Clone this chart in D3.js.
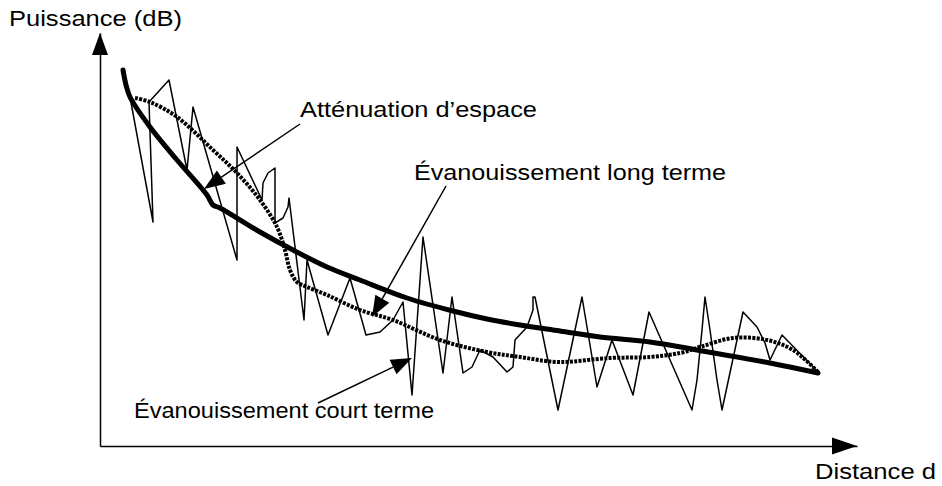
<!DOCTYPE html>
<html lang="fr">
<head>
<meta charset="utf-8">
<script src="https://cdn.jsdelivr.net/npm/d3@7"></script>
<style>
  body { margin: 0; background: #fff; }
  svg text { font-family: "Liberation Sans", Arial, sans-serif; fill: #000; }
</style>
</head>
<body>
<svg width="942" height="486"></svg>
<script>
// Chart units: [distance, puissance], origin at the corner of the axes
const attenuation = [
    [23, 376], [26, 361], [30, 349], [50, 319], [77, 286], [107, 251], [113, 241],
    [120, 238], [160, 214], [193, 196], [227, 179], [260, 166], [307, 148],
    [353, 135], [387, 127], [420, 121], [460, 115], [500, 109], [550, 104],
    [597, 96], [670, 83], [718, 73]
];

const longTerme = [
    [35, 348], [50, 344], [77, 329], [113, 296], [137, 273], [160, 246], [177, 219],
    [185, 196], [190, 176], [197, 164], [207, 159], [227, 151], [260, 136],
    [293, 126], [340, 106], [387, 94], [420, 89], [458, 84], [510, 88], [550, 89],
    [580, 93], [600, 99], [633, 108], [667, 106], [693, 96], [718, 74]
];

const courtTerme = [
    [30, 349], [53, 224], [49, 344], [69, 366], [87, 276], [93, 339], [137, 186],
    [137, 299], [162, 246], [163, 263], [168, 273], [175, 278], [175, 223],
    [183, 228], [188, 239], [189, 248], [204, 126], [207, 186], [228, 111],
    [250, 168], [266, 111], [280, 114], [293, 126], [303, 144], [312, 51],
    [323, 209], [343, 73], [352, 149], [363, 73], [372, 79], [380, 96], [393, 89],
    [407, 74], [413, 79], [415, 106], [427, 119], [433, 136], [433, 149],
    [435, 149], [458, 36], [482, 149], [497, 59], [512, 106], [533, 51],
    [549, 134], [592, 36], [597, 66], [602, 116], [605, 149], [610, 116],
    [617, 66], [622, 36], [643, 134], [657, 119], [665, 103], [670, 86],
    [682, 111], [718, 74]
];

// annotation texts and the points their arrows start from / point at
const annotations = [
    { text: "Atténuation d\u2019espace", from: [200, 322], to: [104, 257] },
    { text: "Évanouissement long terme", from: [346, 260], to: [272, 129] },
    { text: "Évanouissement court terme", from: [218, 43], to: [312, 88] }
];
const yTitle = "Puissance (dB)";
const xTitle = "Distance d";

const svg = d3.select("svg");

const x = d3.scaleLinear().domain([0, 757]).range([100, 857]);
const y = d3.scaleLinear().domain([0, 413]).range([446, 33]);

// arrow head as a filled triangle, tip at (tx,ty), pointing away from (fx,fy)
function arrowHead(fx, fy, tx, ty, len, half) {
    const dx = fx - tx, dy = fy - ty;
    const d = Math.hypot(dx, dy);
    const ux = dx / d, uy = dy / d;
    const bx = tx + ux * len, by = ty + uy * len;
    return {
        base: [bx, by],
        points: [[tx, ty], [bx - uy * half, by + ux * half], [bx + uy * half, by - ux * half]]
    };
}

// Axes (no ticks, only the lines)
svg.append("g")
    .attr("transform", `translate(0,${y(0)})`)
    .call(d3.axisBottom(x).tickValues([]).tickSizeOuter(0))
    .select(".domain").attr("stroke", "#000").attr("stroke-width", 1.5);

svg.append("g")
    .attr("transform", `translate(${x(0)},0)`)
    .call(d3.axisLeft(y).tickValues([]).tickSizeOuter(0))
    .select(".domain").attr("stroke", "#000").attr("stroke-width", 1.5);

const xHead = arrowHead(x(0), y(0), x(757), y(0), 25, 8.5);
svg.append("polygon").attr("points", xHead.points.join(" ")).attr("fill", "#000");
const yHead = arrowHead(x(0), y(0), x(0), y(413), 22, 8);
svg.append("polygon").attr("points", yHead.points.join(" ")).attr("fill", "#000");

const line = d3.line().x(d => x(d[0])).y(d => y(d[1]));

// short term fading: thin zigzag
svg.append("path")
    .datum(courtTerme)
    .attr("d", line.curve(d3.curveLinear))
    .attr("fill", "none")
    .attr("stroke", "#000")
    .attr("stroke-width", 1.5)
    .attr("stroke-linejoin", "round");

// long term fading: thick dotted curve
svg.append("path")
    .datum(longTerme)
    .attr("d", line.curve(d3.curveCatmullRom.alpha(0.5)))
    .attr("fill", "none")
    .attr("stroke", "#000")
    .attr("stroke-width", 4)
    .attr("stroke-dasharray", "3,1.3");

// path loss: thick solid curve
svg.append("path")
    .datum(attenuation)
    .attr("d", line.curve(d3.curveCatmullRom.alpha(0.5)))
    .attr("fill", "none")
    .attr("stroke", "#000")
    .attr("stroke-width", 5)
    .attr("stroke-linecap", "round")
    .attr("stroke-linejoin", "round");

// annotation arrows
annotations.forEach(a => {
    const fx = x(a.from[0]), fy = y(a.from[1]);
    const tx = x(a.to[0]), ty = y(a.to[1]);
    const head = arrowHead(fx, fy, tx, ty, 21, 8);
    svg.append("line")
        .attr("x1", fx).attr("y1", fy)
        .attr("x2", head.base[0]).attr("y2", head.base[1])
        .attr("stroke", "#000")
        .attr("stroke-width", 1.5);
    svg.append("polygon").attr("points", head.points.join(" ")).attr("fill", "#000");
});

// labels (w = width the text is stretched to, as in the drawing)
const labelPos = [
    { text: annotations[0].text, x: 300, y: 117, w: 237 },
    { text: annotations[1].text, x: 414, y: 180, w: 312 },
    { text: annotations[2].text, x: 134, y: 418, w: 300 },
    { text: yTitle, x: 9, y: 26, w: 173 },
    { text: xTitle, x: 815, y: 479, w: 121 }
];

svg.selectAll("text.label")
    .data(labelPos)
    .enter().append("text")
    .attr("class", "label")
    .attr("x", d => d.x)
    .attr("y", d => d.y)
    .attr("textLength", d => d.w)
    .attr("lengthAdjust", "spacingAndGlyphs")
    .style("font-size", "22px")
    .text(d => d.text);
</script>
</body>
</html>
